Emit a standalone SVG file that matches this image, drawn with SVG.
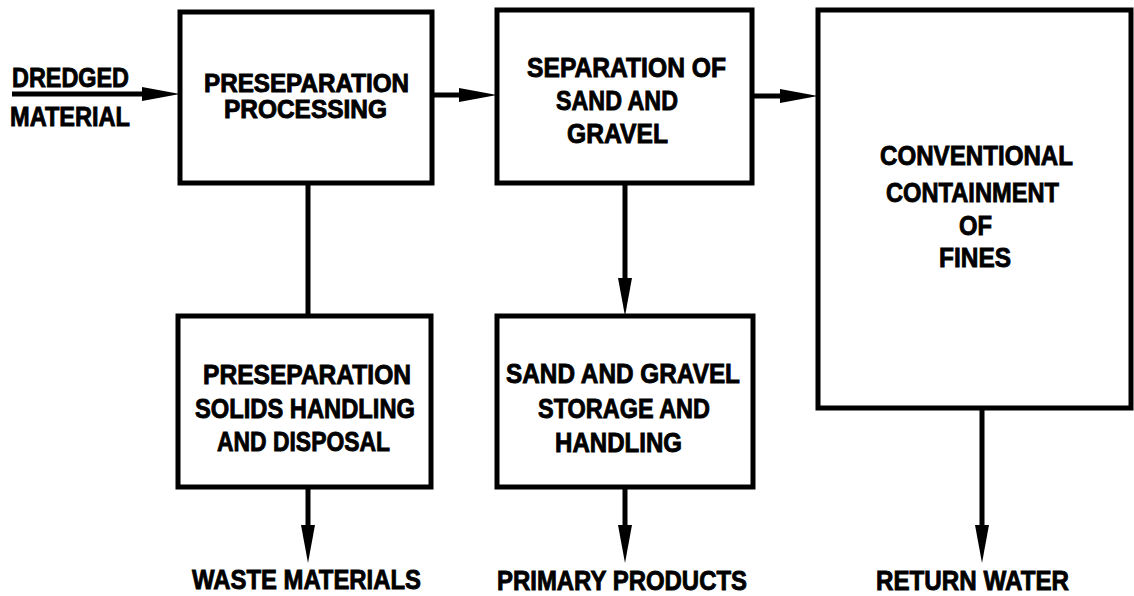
<svg xmlns="http://www.w3.org/2000/svg" width="1134" height="596" viewBox="0 0 1134 596">
  <style>
    .box { fill: #fff; stroke: #000; stroke-width: 5; }
    .t { font-family: "Liberation Sans", Arial, sans-serif; font-weight: 700; font-size: 28px; fill: #000; stroke: #000; stroke-width: 0.9; }
    .s { font-size: 25px; }
    .c { fill: none; stroke: #000; stroke-width: 5; }
    .arr { marker-end: url(#ah); }
  </style>
  <defs>
    <marker id="ah" markerUnits="userSpaceOnUse" markerWidth="38" markerHeight="14" refX="12" refY="7" orient="auto">
      <path d="M0,0 L38,7 L0,14 z" fill="#000"/>
    </marker>
  </defs>
  <rect width="1134" height="596" fill="#fff"/>

  <g id="connectors">
    <line class="c arr" x1="12" y1="94" x2="154" y2="94"/>
    <line class="c arr" x1="432" y1="95" x2="471" y2="95"/>
    <line class="c arr" x1="752" y1="96" x2="792" y2="96"/>
    <line class="c" x1="308" y1="183" x2="308" y2="316"/>
    <line class="c arr" x1="625" y1="183" x2="625" y2="290"/>
    <line class="c arr" x1="308" y1="487" x2="308" y2="537"/>
    <line class="c arr" x1="625" y1="487" x2="625" y2="537"/>
    <line class="c arr" x1="982" y1="408" x2="982" y2="537"/>
  </g>

  <g id="dredged-material">
    <text class="t" x="12" y="87" textLength="117" lengthAdjust="spacingAndGlyphs">DREDGED</text>
    <text class="t" x="10" y="126" textLength="120" lengthAdjust="spacingAndGlyphs">MATERIAL</text>
  </g>

  <g id="preseparation-processing">
    <rect class="box" x="180" y="12" width="252" height="171"/>
    <text class="t s" x="204" y="92" textLength="205" lengthAdjust="spacingAndGlyphs">PRESEPARATION</text>
    <text class="t s" x="224" y="118" textLength="163" lengthAdjust="spacingAndGlyphs">PROCESSING</text>
  </g>

  <g id="separation-sand-gravel">
    <rect class="box" x="497" y="10" width="255" height="173"/>
    <text class="t" x="527" y="77" textLength="199" lengthAdjust="spacingAndGlyphs">SEPARATION OF</text>
    <text class="t" x="556" y="110" textLength="122" lengthAdjust="spacingAndGlyphs">SAND AND</text>
    <text class="t" x="567" y="143" textLength="101" lengthAdjust="spacingAndGlyphs">GRAVEL</text>
  </g>

  <g id="conventional-containment">
    <rect class="box" x="818" y="10" width="313" height="398"/>
    <text class="t" x="880" y="165" textLength="193" lengthAdjust="spacingAndGlyphs">CONVENTIONAL</text>
    <text class="t" x="886" y="202" textLength="173" lengthAdjust="spacingAndGlyphs">CONTAINMENT</text>
    <text class="t" x="959" y="235" textLength="33" lengthAdjust="spacingAndGlyphs">OF</text>
    <text class="t" x="939" y="267" textLength="72" lengthAdjust="spacingAndGlyphs">FINES</text>
  </g>

  <g id="preseparation-solids">
    <rect class="box" x="178" y="316" width="253" height="171"/>
    <text class="t" x="203" y="384" textLength="208" lengthAdjust="spacingAndGlyphs">PRESEPARATION</text>
    <text class="t" x="195" y="418" textLength="220" lengthAdjust="spacingAndGlyphs">SOLIDS HANDLING</text>
    <text class="t" x="217" y="451" textLength="173" lengthAdjust="spacingAndGlyphs">AND DISPOSAL</text>
  </g>

  <g id="sand-gravel-storage">
    <rect class="box" x="497" y="316" width="256" height="171"/>
    <text class="t" x="506" y="383" textLength="234" lengthAdjust="spacingAndGlyphs">SAND AND GRAVEL</text>
    <text class="t" x="538" y="418" textLength="172" lengthAdjust="spacingAndGlyphs">STORAGE AND</text>
    <text class="t" x="555" y="452" textLength="127" lengthAdjust="spacingAndGlyphs">HANDLING</text>
  </g>

  <g id="waste-materials">
    <text class="t" x="192" y="589" textLength="229" lengthAdjust="spacingAndGlyphs">WASTE MATERIALS</text>
  </g>
  <g id="primary-products">
    <text class="t" x="497" y="590" textLength="250" lengthAdjust="spacingAndGlyphs">PRIMARY PRODUCTS</text>
  </g>
  <g id="return-water">
    <text class="t" x="876" y="590" textLength="193" lengthAdjust="spacingAndGlyphs">RETURN WATER</text>
  </g>
</svg>
